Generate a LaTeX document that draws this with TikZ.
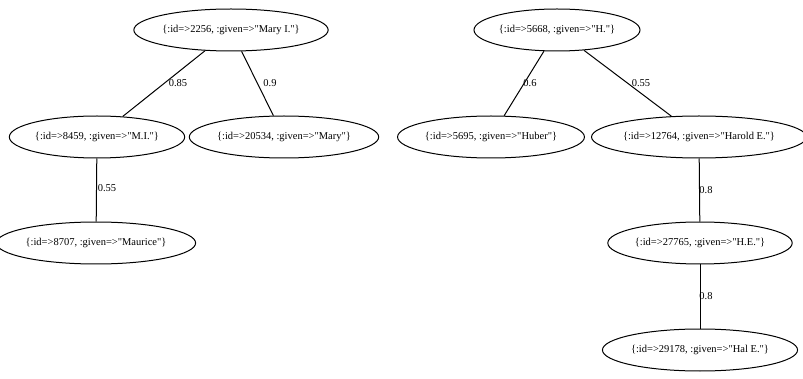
\documentclass[tikz,border=0pt]{standalone}
\usepackage{fontspec}
\setmainfont{Liberation Serif}[Ligatures=TeXOff]
\usetikzlibrary{shapes.geometric}
\begin{document}
\begin{tikzpicture}[x=1pt,y=-1pt,
  rec/.style={draw, ellipse, line width=1pt, inner sep=0pt,
    minimum height=42pt, font=\fontsize{10.5}{12}\selectfont},
  link/.style={line width=1pt},
  wt/.style={font=\fontsize{10.5}{12}\selectfont, inner sep=0pt}]
  \useasboundingbox (0,0) rectangle (803,379);
  % left tree
  \node[rec, minimum width=178pt] (n2256)  at (231,30)  {\{:id=>2256, :given=>"Mary I."\}};
  \node[rec, minimum width=166pt] (n8459)  at (97,137)  {\{:id=>8459, :given=>"M.I."\}};
  \node[rec, minimum width=164pt] (n20534) at (284,137) {\{:id=>20534, :given=>"Mary"\}};
  \node[rec, minimum width=178pt] (n8707)  at (96,243)  {\{:id=>8707, :given=>"Maurice"\}};
  % right tree
  \node[rec, minimum width=166pt] (n5668)  at (557,30)  {\{:id=>5668, :given=>"H."\}};
  \node[rec, minimum width=180pt] (n5695)  at (491,137) {\{:id=>5695, :given=>"Huber"\}};
  \node[rec, minimum width=192pt] (n12764) at (699,137) {\{:id=>12764, :given=>"Harold E."\}};
  \node[rec, minimum width=175pt] (n27765) at (700,243) {\{:id=>27765, :given=>"H.E."\}};
  \node[rec, minimum width=183pt] (n29178) at (700,350) {\{:id=>29178, :given=>"Hal E."\}};
  % edges
  \draw[link] (n2256) -- (n8459);
  \draw[link] (n2256) -- (n20534);
  \draw[link] (n8459) -- (n8707);
  \draw[link] (n5668) -- (n5695);
  \draw[link] (n5668) -- (n12764);
  \draw[link] (n12764) -- (n27765);
  \draw[link] (n27765) -- (n29178);
  % edge weights
  \node[wt] (w1) at (178,83)  {0.85};
  \node[wt] (w2) at (270,83)  {0.9};
  \node[wt] (w3) at (107,188) {0.55};
  \node[wt] (w4) at (530,83)  {0.6};
  \node[wt] (w5) at (641,83)  {0.55};
  \node[wt] (w6) at (706,190) {0.8};
  \node[wt] (w7) at (706,296) {0.8};
\end{tikzpicture}
\end{document}
